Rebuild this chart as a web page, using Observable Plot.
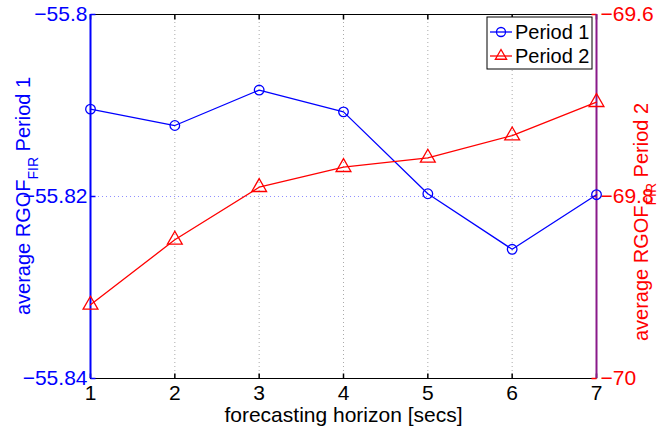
<!DOCTYPE html>
<html>
<head>
<meta charset="utf-8">
<script src="https://cdn.jsdelivr.net/npm/d3@7"></script>
<script src="https://cdn.jsdelivr.net/npm/@observablehq/plot@0.6"></script>
<style>
  html, body { margin: 0; padding: 0; background: #fff; }
  #chart svg { display: block; }
</style>
</head>
<body>
<div id="chart"></div>
<script>
// ---- data ----
const horizons = [1, 2, 3, 4, 5, 6, 7];
const period1 = [-55.8104, -55.8122, -55.8083, -55.8107, -55.8197, -55.8258, -55.8198];
const period2 = [-69.919, -69.8476, -69.7898, -69.7678, -69.7575, -69.733, -69.6964];
const leftTicks = [-55.84, -55.82, -55.8];
const rightTicks = [-70, -69.8, -69.6];
const leftDomain = [-55.84, -55.8];
const rightDomain = [-70, -69.6];
const seriesNames = ["Period 1", "Period 2"];
const xLabel = "forecasting horizon [secs]";

// map right-axis values into left-axis space (plotyy style)
const toLeft = d3.scaleLinear().domain(rightDomain).range(leftDomain);

const p1 = horizons.map((h, i) => ({x: h, y: period1[i]}));
const p2 = horizons.map((h, i) => ({x: h, y: toLeft(period2[i])}));
const rightTicksL = rightTicks.map(toLeft);
const fmtNum = d3.format("");
const fmtL = d => fmtNum(Math.round(d * 100) / 100);
const fmtR = d => fmtNum(Math.round(toLeft.invert(d) * 10) / 10);

const FONT = "'Liberation Sans', Arial, Helvetica, sans-serif";
const W = 668, H = 429;
const mL = 90, mR = 72, mT = 14, mB = 51;

// tick-mark symbols (inward MATLAB-style ticks, 5px long)
const tickUp = {draw(ctx) { ctx.moveTo(0, 0); ctx.lineTo(0, -5); }};
const tickDown = {draw(ctx) { ctx.moveTo(0, 0); ctx.lineTo(0, 5); }};
const tickRight = {draw(ctx) { ctx.moveTo(0, 0); ctx.lineTo(5, 0); }};
const tickLeft = {draw(ctx) { ctx.moveTo(0, 0); ctx.lineTo(-5, 0); }};

const chart = Plot.plot({
  width: W, height: H,
  marginLeft: mL, marginRight: mR, marginTop: mT, marginBottom: mB,
  style: {fontFamily: FONT, fontSize: "20px", background: "white", overflow: "visible"},
  x: {domain: [1, 7], axis: null},
  y: {domain: leftDomain, axis: null},
  marks: [
    // grid
    Plot.ruleX(horizons.slice(1, -1), {x: d => d, stroke: "#aaa", strokeDasharray: "1,3", strokeWidth: 1}),
    Plot.ruleY([leftTicks[1]], {y: d => d, stroke: "#8f8fff", strokeDasharray: "1,3", strokeWidth: 1}),
    // frame top/bottom
    Plot.ruleY([leftDomain[1]], {y: d => d, stroke: "black", strokeWidth: 1}),
    Plot.ruleY([leftDomain[0]], {y: d => d, stroke: "black", strokeWidth: 1}),
    // inward ticks
    Plot.dot(horizons, {x: d => d, y: leftDomain[0], symbol: tickUp, r: 5, stroke: "black", fill: "none"}),
    Plot.dot(horizons, {x: d => d, y: leftDomain[1], symbol: tickDown, r: 5, stroke: "black", fill: "none"}),
    Plot.dot(leftTicks, {x: 1, y: d => d, symbol: tickRight, r: 5, stroke: "blue", fill: "none"}),
    Plot.dot(rightTicksL, {x: 7, y: d => d, symbol: tickLeft, r: 5, stroke: "red", fill: "none"}),
    // axis lines
    Plot.ruleX([1], {x: d => d, stroke: "blue", strokeWidth: 2}),
    Plot.ruleX([7], {x: d => d, stroke: "#8a1a8a", strokeWidth: 2}),
    // axes
    Plot.axisY({anchor: "left", ticks: leftTicks, tickFormat: fmtL, tickSize: 0, tickPadding: 3, fill: "blue", fontSize: 21, label: null}),
    Plot.axisY({anchor: "right", ticks: rightTicksL, tickFormat: fmtR, tickSize: 0, tickPadding: 4, fill: "red", fontSize: 21, label: null}),
    Plot.axisX({anchor: "bottom", ticks: horizons, tickFormat: d3.format("d"), tickSize: 0, tickPadding: 7, fill: "black", fontSize: 21, label: null}),
    // series
    Plot.line(p1, {x: "x", y: "y", stroke: "blue", strokeWidth: 1.3}),
    Plot.dot(p1, {x: "x", y: "y", r: 4.8, stroke: "blue", strokeWidth: 1.3, fill: "none"}),
    Plot.line(p2, {x: "x", y: "y", stroke: "red", strokeWidth: 1.3}),
    Plot.dot(p2, {x: "x", y: "y", r: 5.5, symbol: "triangle", stroke: "red", strokeWidth: 1.3, fill: "none"}),
    // x label
    Plot.text([xLabel], {text: d => d, frameAnchor: "bottom", dy: 43, fill: "black", fontSize: 21, lineAnchor: "bottom"})
  ]
});
document.getElementById("chart").appendChild(chart);

// ---- y labels with subscripts, and legend ----
const svg = d3.select(chart);
function yLabel(x, y, color, tail) {
  const t = svg.append("text")
    .attr("transform", `translate(${x},${y}) rotate(-90)`)
    .attr("text-anchor", "middle")
    .attr("fill", color)
    .style("font-family", FONT)
    .style("font-size", "20px");
  t.append("tspan").text("average RGOF");
  t.append("tspan").attr("dy", 8).style("font-size", "14px").text("FIR");
  t.append("tspan").attr("dy", -8).text("\u00a0" + tail);
}
yLabel(30, mT + (H - mT - mB) / 2, "blue", "Period 1");
yLabel(648, 222, "red", "Period 2");

const lg = svg.append("g").attr("transform", "translate(487,17)");
lg.append("rect").attr("width", 105).attr("height", 52).attr("fill", "white").attr("stroke", "black").attr("stroke-width", 1);
const rows = [
  {name: seriesNames[0], color: "blue", sym: d3.symbolCircle, size: Math.PI * 4.5 * 4.5},
  {name: seriesNames[1], color: "red", sym: d3.symbolTriangle, size: 55}
];
rows.forEach((r, i) => {
  const y = 15 + i * 24;
  lg.append("line").attr("x1", 3).attr("x2", 25).attr("y1", y).attr("y2", y).attr("stroke", r.color).attr("stroke-width", 1.3);
  lg.append("path").attr("d", d3.symbol(r.sym, r.size)()).attr("transform", `translate(14,${y})`)
    .attr("fill", "none").attr("stroke", r.color).attr("stroke-width", 1.3);
  lg.append("text").attr("x", 28).attr("y", y).attr("dy", "0.35em").attr("fill", "black")
    .attr("text-anchor", "start")
    .style("font-family", FONT).style("font-size", "20px").text(r.name);
});
</script>
</body>
</html>
